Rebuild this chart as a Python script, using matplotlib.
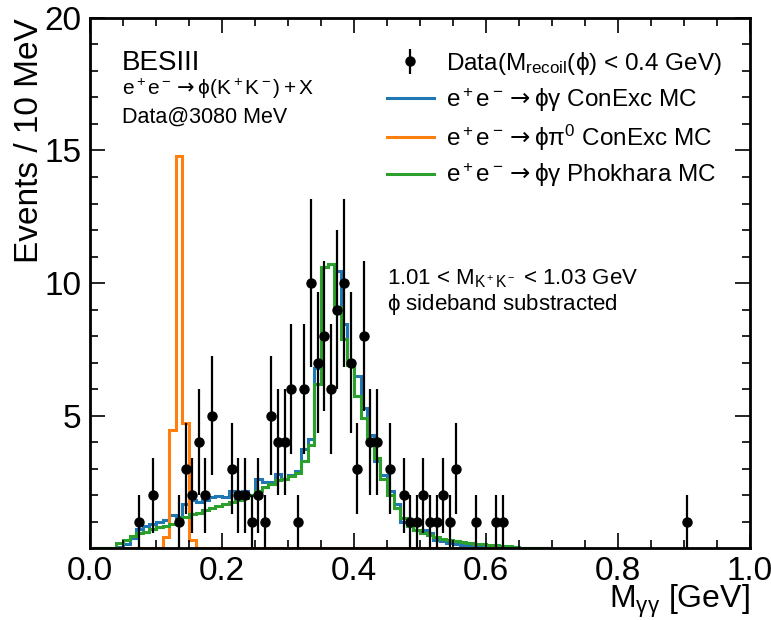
import numpy as np
import matplotlib
matplotlib.use("Agg")
import matplotlib.pyplot as plt
from matplotlib.ticker import MultipleLocator

plt.rcParams['font.family'] = ['Liberation Sans', 'DejaVu Sans']
plt.rcParams['mathtext.fontset'] = 'custom'
plt.rcParams['mathtext.rm'] = 'Liberation Sans'
plt.rcParams['mathtext.it'] = 'Liberation Sans:italic'
plt.rcParams['mathtext.bf'] = 'Liberation Sans:bold'
plt.rcParams['mathtext.sf'] = 'DejaVu Sans'
plt.rcParams['mathtext.fallback'] = 'stixsans'

# binning: 10 MeV bins from 0 to 0.7 GeV
bin_edges = np.round(np.arange(0.0, 0.71, 0.01), 2)

# data points (bin centre, events)
data_x = [0.075, 0.095, 0.135, 0.145, 0.155, 0.165, 0.175, 0.185, 0.215, 0.225,
          0.235, 0.245, 0.255, 0.265, 0.275, 0.285, 0.295, 0.305, 0.315, 0.325,
          0.335, 0.345, 0.355, 0.365, 0.375, 0.385, 0.395, 0.405, 0.415, 0.425,
          0.435, 0.455, 0.475, 0.485, 0.495, 0.505, 0.515, 0.525, 0.535, 0.545,
          0.555, 0.585, 0.615, 0.625, 0.905]
data_y = [1, 2, 1, 3, 2, 4, 2, 5, 3, 2,
          2, 1, 2, 1, 5, 4, 4, 6, 1, 6,
          10, 7, 8, 6, 9, 10, 7, 3, 8, 4,
          4, 3, 2, 1, 1, 2, 1, 1, 2, 1,
          3, 1, 1, 1, 1]

# e+e- -> phi gamma, ConExc MC (per bin, 0.00 ... 0.69)
conexc_gamma = [0, 0, 0, 0, 0.05, 0.15, 0.38, 0.72, 0.85, 0.92,
                1.0, 1.05, 1.25, 1.18, 1.65, 1.8, 1.75, 1.8, 1.93, 1.95,
                1.93, 2.15, 2.0, 2.15, 2.0, 2.6, 2.5, 2.5, 2.8, 2.6,
                2.75, 2.9, 3.75, 4.1, 6.8, 10.6, 10.7, 10.45, 8.45, 6.9,
                6.5, 5.3, 4.25, 3.3, 2.75, 2.15, 1.65, 1.0, 0.85, 0.68,
                0.68, 0.55, 0.3, 0.25, 0.2, 0.15, 0.12, 0.1, 0.08, 0.05,
                0.03, 0, 0, 0, 0, 0, 0, 0, 0, 0]

# e+e- -> phi pi0, ConExc MC
conexc_pi0 = [0, 0, 0, 0, 0, 0, 0, 0, 0, 0,
              0, 0.4, 4.45, 14.8, 4.7, 0.3, 0, 0, 0, 0,
              0, 0, 0, 0, 0, 0, 0, 0, 0, 0,
              0, 0, 0, 0, 0, 0, 0, 0, 0, 0,
              0, 0, 0, 0, 0, 0, 0, 0, 0, 0,
              0, 0, 0, 0, 0, 0, 0, 0, 0, 0,
              0, 0, 0, 0, 0, 0, 0, 0, 0, 0]

# e+e- -> phi gamma, Phokhara MC
phokhara_gamma = [0, 0, 0, 0, 0.2, 0.3, 0.45, 0.55, 0.62, 0.72,
                  0.78, 0.85, 0.92, 1.05, 1.18, 1.27, 1.33, 1.43, 1.5, 1.58,
                  1.68, 1.72, 1.82, 1.9, 2.0, 2.15, 2.3, 2.4, 2.55, 2.6,
                  2.7, 2.85, 3.3, 3.9, 6.2, 10.6, 10.7, 9.1, 7.9, 6.9,
                  5.75, 4.9, 4.1, 3.4, 2.6, 2.0, 1.5, 1.12, 0.83, 0.68,
                  0.55, 0.5, 0.43, 0.36, 0.32, 0.26, 0.22, 0.2, 0.17, 0.15,
                  0.12, 0.1, 0.08, 0.06, 0.04, 0.02, 0.02, 0.01, 0, 0]

fig = plt.figure(figsize=(7.71, 6.2), dpi=100)
ax = fig.add_axes([0.1167, 0.1161, 0.8561, 0.8549])

arrow = r'\mathsf{\rightarrow}'

h_data = ax.errorbar(data_x, data_y, yerr=np.sqrt(data_y), fmt='o', color='black',
                     markersize=6.5, elinewidth=1.6, capsize=0,
                     label=r'Data($\mathrm{M_{recoil}(\phi)}$ < 0.4 GeV)')
h_blue = ax.stairs(conexc_gamma, bin_edges, color='#1f77b4', lw=2.2,
                   label=r'$\mathrm{e^+e^-}' + arrow + r'\mathrm{\phi\gamma}$ ConExc MC')
h_orange = ax.stairs(conexc_pi0, bin_edges, color='#ff7f0e', lw=2.2,
                     label=r'$\mathrm{e^+e^-}' + arrow + r'\mathrm{\phi\pi^0}$ ConExc MC')
h_green = ax.stairs(phokhara_gamma, bin_edges, color='#2ca02c', lw=2.2,
                    label=r'$\mathrm{e^+e^-}' + arrow + r'\mathrm{\phi\gamma}$ Phokhara MC')

ax.set_xlim(0, 1.0)
ax.set_ylim(0.001, 20)
ax.xaxis.set_major_locator(MultipleLocator(0.2))
ax.xaxis.set_minor_locator(MultipleLocator(0.05))
ax.yaxis.set_major_locator(MultipleLocator(5))
ax.yaxis.set_minor_locator(MultipleLocator(1))
ax.tick_params(which='both', direction='in', top=True, right=True, labelsize=24, width=1.2)
ax.tick_params(which='major', length=11, pad=6)
ax.tick_params(which='minor', length=6)
for s in ax.spines.values():
    s.set_linewidth(2)

ax.set_xlabel(r'$\mathrm{M_{γγ}}$ [GeV]', fontsize=23, loc='right', labelpad=-3)
ax.set_ylabel('Events / 10 MeV', fontsize=24, loc='top', labelpad=0)

ax.text(0.048, 0.915, 'BESIII', transform=ax.transAxes, fontsize=20, va='center')
ax.text(0.048, 0.866, r'$\mathrm{e^+e^-}' + arrow + r'\mathrm{\phi(K^+K^-) + X}$',
        transform=ax.transAxes, fontsize=15, va='center')
ax.text(0.048, 0.812, 'Data@3080 MeV', transform=ax.transAxes, fontsize=15.5, va='center')

ax.text(0.45, 0.508, r'1.01 < $\mathrm{M_{K^+K^-}}$ < 1.03 GeV', transform=ax.transAxes,
        fontsize=16, va='center')
ax.text(0.45, 0.46, r'$\mathrm{\phi}$ sideband substracted', transform=ax.transAxes,
        fontsize=16, va='center')

ax.legend(handles=[h_data, h_blue, h_orange, h_green], loc='upper right',
          bbox_to_anchor=(0.972, 0.958), borderaxespad=0,
          frameon=False, fontsize=17.5, handlelength=1.93, handletextpad=0.5,
          labelspacing=0.36)

fig.savefig('out.png', dpi=100)
